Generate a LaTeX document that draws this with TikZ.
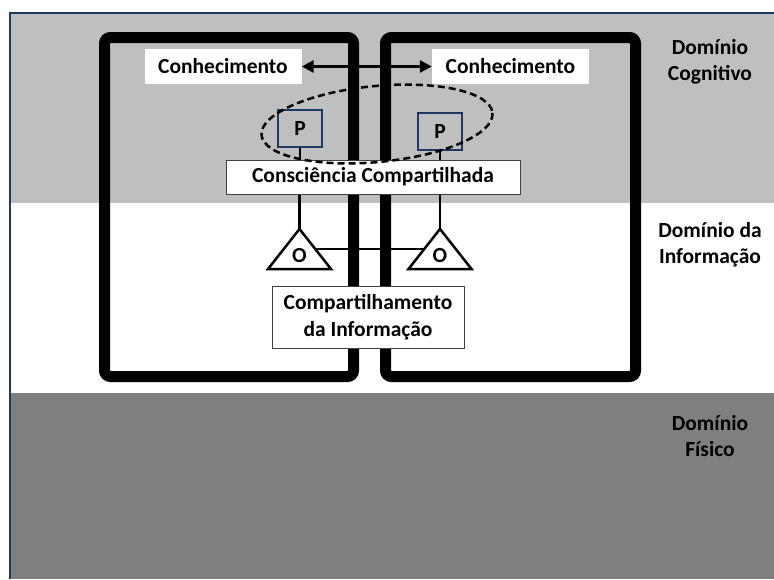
\documentclass[tikz,border=0pt]{standalone}
\usepackage{fontspec}
\setmainfont{Carlito}
\usetikzlibrary{arrows.meta}
\definecolor{framecol}{HTML}{1F3864}
\definecolor{cogband}{HTML}{BFBFBF}
\definecolor{physband}{HTML}{7F7F7F}
\definecolor{boxedge}{HTML}{404040}
\begin{document}
\begin{tikzpicture}[x=1pt,y=-1pt,
  txt/.style={font=\bfseries\fontsize{21.5}{26}\selectfont, text=black},
  unitbox/.style={line width=11pt, rounded corners=6pt, draw=black},
  knowbox/.style={txt, fill=white, inner sep=0pt, minimum width=157pt, minimum height=35pt},
  pbox/.style={txt, draw=framecol, line width=2pt, fill=cogband, inner sep=0pt, minimum width=44pt, minimum height=37pt},
  infobox/.style={txt, draw=boxedge, line width=1pt, fill=white, inner sep=0pt, align=center},
  link/.style={line width=2.5pt, draw=black},
  tri/.style={line width=2.5pt, draw=black, fill=white, line join=miter},
  domlabel/.style={txt, align=center}
]
\useasboundingbox (0,0) rectangle (774,579);
\fill[white] (0,0) rectangle (774,579);

% domain bands
\fill[cogband] (9,12) rectangle (774,203);
\fill[white] (9,203) rectangle (774,393);
\fill[physband] (9,393) rectangle (774,579);
\draw[framecol, line width=2pt] (9.5,579) -- (9.5,12.5) -- (774,12.5);

% the two units
\draw[unitbox] (104.5,37.5) rectangle (353.5,376.5);
\draw[unitbox] (385.5,37.5) rectangle (635.5,376.5);

% triangle corners
\coordinate (oLa) at (299.5,229);
\coordinate (oLl) at (268,269);
\coordinate (oLr) at (331,269);
\coordinate (oRa) at (440,229);
\coordinate (oRl) at (408.5,269);
\coordinate (oRr) at (471.5,269);
\coordinate (oLs) at (315.25,249);
\coordinate (oRs) at (424.25,249);

% nodes
\node[knowbox] (kL) at (223,66.5) {Conhecimento};
\node[knowbox] (kR) at (510.5,66.5) {Conhecimento};
\node[pbox] (pL) at (300,128.5) {P};
\node[pbox] (pR) at (440,131.5) {P};
\node[infobox, minimum width=294pt, minimum height=34pt] (cs) at (373,177) {Consciência Compartilhada};
\node[infobox, minimum width=192pt, minimum height=62pt, font=\bfseries\fontsize{21.5}{27}\selectfont] (ci) at (368,317) {Compartilhamento\\da Informação};

% connectors
\draw[link] (pL.south) -- (pL.south |- cs.north);
\draw[link] (pR.south) -- (pR.south |- cs.north);
\draw[link] (oLa |- cs.south) -- (oLa);
\draw[link] (oRa |- cs.south) -- (oRa);
\draw[link] (oLs) -- (oRs);

% observation triangles
\draw[tri] (oLa) -- (oLr) -- (oLl) -- cycle;
\draw[tri] (oRa) -- (oRr) -- (oRl) -- cycle;
\node[txt] (oL) at (299.5,256) {O};
\node[txt] (oR) at (440,256) {O};

% shared awareness region
\draw[line width=2.5pt, dash pattern=on 7pt off 4pt] (377,124) ellipse [x radius=116, y radius=38, rotate=5.5];

% knowledge exchange
\draw[line width=3pt, {Triangle[length=12pt,width=12pt]}-{Triangle[length=12pt,width=12pt]}] (kL.east) -- (kR.west);

% domain names
\node[domlabel] (dc) at (710,62) {Domínio\\Cognitivo};
\node[domlabel] (di) at (710,245) {Domínio da\\Informação};
\node[domlabel] (dp) at (710,436) {Domínio\\Físico};
\end{tikzpicture}
\end{document}
